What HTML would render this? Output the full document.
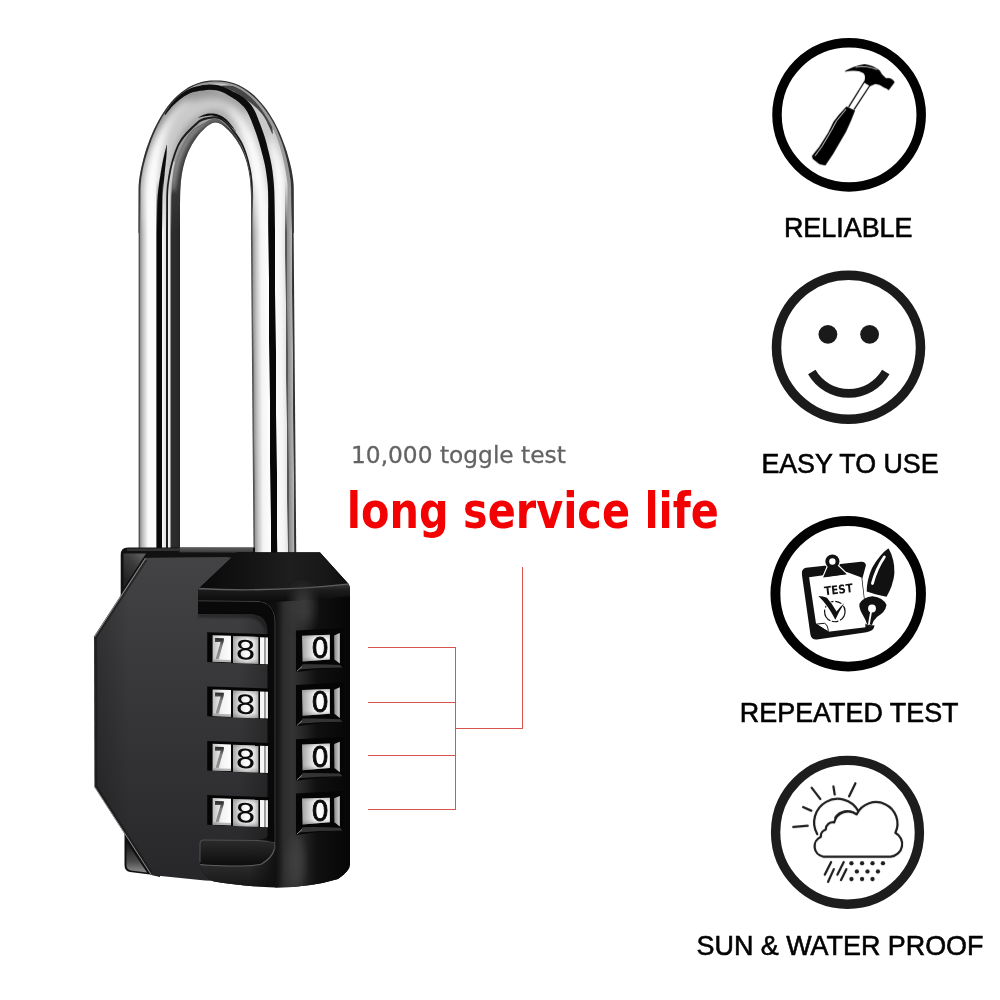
<!DOCTYPE html>
<html><head><meta charset="utf-8"><title>Combination padlock</title>
<style>
html,body{margin:0;padding:0;background:#fff}
svg{display:block}
text{font-family:"Liberation Sans",sans-serif}
.dj{font-family:"DejaVu Sans","Liberation Sans",sans-serif}
.djc{font-family:"DejaVu Sans Condensed","DejaVu Sans","Liberation Sans",sans-serif}
</style></head><body>
<svg width="1000" height="1000" viewBox="0 0 1000 1000">
<rect width="1000" height="1000" fill="#fff"/>
<defs>
<filter id="b05" x="-20%" y="-20%" width="140%" height="140%"><feGaussianBlur stdDeviation="0.5"/></filter>
<filter id="b1" x="-20%" y="-20%" width="140%" height="140%"><feGaussianBlur stdDeviation="1"/></filter>
<filter id="b2" x="-20%" y="-20%" width="140%" height="140%"><feGaussianBlur stdDeviation="2"/></filter>
<filter id="b3" x="-20%" y="-20%" width="140%" height="140%"><feGaussianBlur stdDeviation="3.5"/></filter>
<filter id="b6" x="-30%" y="-30%" width="160%" height="160%"><feGaussianBlur stdDeviation="6"/></filter>

<clipPath id="shk"><path d="M138.6,562.0 L138.6,553.8 L138.6,545.5 L138.6,537.2 L138.6,529.0 L138.6,520.8 L138.6,512.5 L138.6,504.2 L138.6,496.0 L138.6,487.8 L138.6,479.5 L138.6,471.2 L138.6,463.0 L138.6,454.8 L138.6,446.5 L138.6,438.2 L138.6,430.0 L138.6,421.8 L138.6,413.5 L138.6,405.2 L138.6,397.0 L138.6,388.8 L138.6,380.5 L138.6,372.2 L138.6,364.0 L138.6,355.8 L138.6,347.5 L138.6,339.2 L138.6,331.0 L138.6,322.8 L138.6,314.5 L138.6,306.2 L138.6,298.0 L138.6,289.8 L138.6,281.5 L138.6,273.2 L138.6,265.0 L138.6,256.8 L138.6,248.5 L138.6,240.2 L138.6,232.0 L138.6,227.3 L138.6,222.6 L138.6,217.9 L138.6,213.2 L138.6,208.4 L138.6,203.7 L138.6,199.0 L138.6,194.3 L138.6,189.6 L138.7,184.9 L139.1,180.2 L139.8,175.5 L140.6,170.9 L141.6,166.3 L142.7,161.7 L143.9,157.1 L145.2,152.6 L146.6,148.1 L148.2,143.7 L149.8,139.3 L151.6,134.9 L153.5,130.6 L155.5,126.4 L157.7,122.2 L160.0,118.1 L162.5,114.0 L165.1,110.1 L167.8,106.3 L170.8,102.6 L173.9,99.1 L177.3,95.8 L180.8,92.7 L184.6,89.9 L188.5,87.3 L192.7,85.2 L197.1,83.4 L201.6,82.0 L206.2,81.1 L210.9,80.6 L215.6,80.5 L220.3,80.6 L225.0,81.1 L229.7,82.0 L234.2,83.3 L238.6,85.1 L242.8,87.2 L246.8,89.7 L250.7,92.5 L254.3,95.6 L257.7,98.9 L260.8,102.4 L263.8,106.0 L266.7,109.8 L269.3,113.7 L271.8,117.7 L274.2,121.8 L276.4,126.0 L278.5,130.3 L280.4,134.6 L282.2,139.0 L283.9,143.4 L285.5,147.8 L287.0,152.3 L288.3,156.9 L289.6,161.4 L290.7,166.0 L291.7,170.6 L292.5,175.3 L293.2,180.0 L293.6,184.7 L293.7,189.4 L293.7,194.2 L293.7,198.9 L293.7,203.6 L293.7,208.3 L293.7,213.1 L293.7,217.8 L293.7,222.5 L293.7,227.3 L293.7,232.0 L293.7,240.2 L293.7,248.5 L293.7,256.8 L293.7,265.0 L293.7,273.2 L293.7,281.5 L293.7,289.7 L293.7,298.0 L293.7,306.2 L293.7,314.5 L293.7,322.8 L293.7,331.0 L293.7,339.3 L293.7,347.5 L293.7,355.8 L293.7,364.0 L293.7,372.2 L293.7,380.5 L293.7,388.8 L293.7,397.0 L293.7,405.2 L293.7,413.5 L293.7,421.8 L293.7,430.0 L293.7,438.2 L293.7,446.5 L293.7,454.7 L293.7,463.0 L293.7,471.2 L293.7,479.5 L293.7,487.8 L293.7,496.0 L293.7,504.3 L293.7,512.5 L293.7,520.8 L293.7,529.0 L293.7,537.2 L293.7,545.5 L293.7,553.8 L293.7,562.0 L251.1,562.0 L251.1,553.8 L251.1,545.5 L251.1,537.2 L251.1,529.0 L251.1,520.8 L251.1,512.5 L251.1,504.3 L251.1,496.0 L251.1,487.8 L251.1,479.5 L251.1,471.2 L251.1,463.0 L251.1,454.7 L251.1,446.5 L251.1,438.2 L251.1,430.0 L251.1,421.8 L251.1,413.5 L251.1,405.2 L251.1,397.0 L251.1,388.8 L251.1,380.5 L251.1,372.2 L251.1,364.0 L251.1,355.8 L251.1,347.5 L251.1,339.3 L251.1,331.0 L251.1,322.8 L251.1,314.5 L251.1,306.2 L251.1,298.0 L251.1,289.7 L251.1,281.5 L251.1,273.2 L251.1,265.0 L251.1,256.8 L251.1,248.5 L251.1,240.2 L251.1,232.0 L251.1,226.8 L251.1,223.8 L251.1,220.8 L251.1,217.8 L251.1,214.8 L251.1,211.7 L251.1,208.7 L251.1,205.7 L251.1,202.7 L251.0,199.7 L251.0,196.7 L250.9,193.7 L250.8,190.7 L250.6,187.6 L250.4,184.6 L250.2,181.6 L249.8,178.6 L249.4,175.7 L248.9,172.7 L248.4,169.7 L247.7,166.8 L247.0,163.8 L246.2,161.0 L245.2,158.1 L244.2,155.3 L243.1,152.5 L241.8,149.7 L240.5,147.0 L239.0,144.4 L237.4,141.8 L235.8,139.3 L234.0,136.9 L232.2,134.5 L230.2,132.2 L228.1,130.0 L225.9,127.9 L223.6,126.0 L221.2,124.3 L218.4,123.0 L215.5,122.5 L212.5,123.0 L209.8,124.4 L207.4,126.1 L205.1,128.1 L202.9,130.2 L200.8,132.3 L198.9,134.6 L197.0,137.0 L195.3,139.4 L193.6,142.0 L192.0,144.5 L190.6,147.2 L189.2,149.9 L188.0,152.6 L186.9,155.4 L185.8,158.3 L184.9,161.1 L184.1,164.0 L183.3,166.9 L182.7,169.9 L182.1,172.9 L181.7,175.8 L181.3,178.8 L180.9,181.8 L180.7,184.8 L180.5,187.8 L180.3,190.8 L180.2,193.8 L180.1,196.9 L180.1,199.9 L180.0,202.9 L180.0,205.9 L180.0,208.9 L180.0,211.9 L180.0,214.9 L180.0,218.0 L180.0,221.0 L180.0,224.0 L180.0,227.0 L180.0,232.0 L180.0,240.2 L180.0,248.5 L180.0,256.8 L180.0,265.0 L180.0,273.2 L180.0,281.5 L180.0,289.8 L180.0,298.0 L180.0,306.2 L180.0,314.5 L180.0,322.8 L180.0,331.0 L180.0,339.2 L180.0,347.5 L180.0,355.8 L180.0,364.0 L180.0,372.2 L180.0,380.5 L180.0,388.8 L180.0,397.0 L180.0,405.2 L180.0,413.5 L180.0,421.8 L180.0,430.0 L180.0,438.2 L180.0,446.5 L180.0,454.8 L180.0,463.0 L180.0,471.2 L180.0,479.5 L180.0,487.8 L180.0,496.0 L180.0,504.2 L180.0,512.5 L180.0,520.8 L180.0,529.0 L180.0,537.2 L180.0,545.5 L180.0,553.8 L180.0,562.0Z"/></clipPath>
</defs>
<defs>
<linearGradient id="legL" gradientUnits="userSpaceOnUse" x1="138.65" y1="0" x2="180" y2="0">
<stop offset="0.0000" stop-color="#3c3c3c"/><stop offset="0.0290" stop-color="#5a5a5a"/><stop offset="0.0363" stop-color="#909090"/><stop offset="0.0967" stop-color="#bcbcbc"/><stop offset="0.2273" stop-color="#fafafa"/><stop offset="0.4256" stop-color="#fdfdfd"/><stop offset="0.4353" stop-color="#080808"/><stop offset="0.5635" stop-color="#080808"/><stop offset="0.5756" stop-color="#f6f6f6"/><stop offset="0.6554" stop-color="#e2e2e2"/><stop offset="0.6651" stop-color="#1c1c1c"/><stop offset="0.6989" stop-color="#1c1c1c"/><stop offset="0.7086" stop-color="#f2f2f2"/><stop offset="0.7642" stop-color="#eaeaea"/><stop offset="0.7763" stop-color="#2e2e2e"/><stop offset="0.9819" stop-color="#282828"/><stop offset="1.0000" stop-color="#1e1e1e"/>
</linearGradient>
<linearGradient id="legR" gradientUnits="userSpaceOnUse" x1="251.2" y1="0" x2="293.9" y2="0">
<stop offset="0.0000" stop-color="#444"/><stop offset="0.0351" stop-color="#6c6c6c"/><stop offset="0.0445" stop-color="#9a9a9a"/><stop offset="0.1171" stop-color="#c4c4c4"/><stop offset="0.2295" stop-color="#f4f4f4"/><stop offset="0.4028" stop-color="#fdfdfd"/><stop offset="0.4145" stop-color="#080808"/><stop offset="0.5527" stop-color="#080808"/><stop offset="0.5644" stop-color="#fbfbfb"/><stop offset="0.7026" stop-color="#f6f6f6"/><stop offset="0.7963" stop-color="#e6e6e6"/><stop offset="0.8056" stop-color="#585858"/><stop offset="0.8337" stop-color="#585858"/><stop offset="0.8431" stop-color="#8a8a8a"/><stop offset="0.9508" stop-color="#b4b4b4"/><stop offset="0.9625" stop-color="#3a3a3a"/><stop offset="1.0000" stop-color="#2c2c2c"/>
</linearGradient>
<linearGradient id="legfadeg" gradientUnits="userSpaceOnUse" x1="0" y1="180" x2="0" y2="232">
<stop offset="0" stop-color="#000"/><stop offset="1" stop-color="#fff"/></linearGradient>
<mask id="legfade" maskUnits="userSpaceOnUse" x="130" y="170" width="170" height="64"><rect x="130" y="170" width="170" height="64" fill="url(#legfadeg)"/></mask>
<clipPath id="archclip"><rect x="100" y="60" width="240" height="172.3"/></clipPath>
</defs>
<rect x="138.65" y="231.5" width="41.35" height="331" fill="url(#legL)"/>
<rect x="251.2" y="231.5" width="42.7" height="331" fill="url(#legR)" transform="translate(-2.19 0) skewX(0.47)"/>
<g clip-path="url(#archclip)"><g clip-path="url(#shk)">
<path d="M138.6,562.0 L138.6,553.8 L138.6,545.5 L138.6,537.2 L138.6,529.0 L138.6,520.8 L138.6,512.5 L138.6,504.2 L138.6,496.0 L138.6,487.8 L138.6,479.5 L138.6,471.2 L138.6,463.0 L138.6,454.8 L138.6,446.5 L138.6,438.2 L138.6,430.0 L138.6,421.8 L138.6,413.5 L138.6,405.2 L138.6,397.0 L138.6,388.8 L138.6,380.5 L138.6,372.2 L138.6,364.0 L138.6,355.8 L138.6,347.5 L138.6,339.2 L138.6,331.0 L138.6,322.8 L138.6,314.5 L138.6,306.2 L138.6,298.0 L138.6,289.8 L138.6,281.5 L138.6,273.2 L138.6,265.0 L138.6,256.8 L138.6,248.5 L138.6,240.2 L138.6,232.0 L138.6,227.3 L138.6,222.6 L138.6,217.9 L138.6,213.2 L138.6,208.4 L138.6,203.7 L138.6,199.0 L138.6,194.3 L138.6,189.6 L138.7,184.9 L139.1,180.2 L139.8,175.5 L140.6,170.9 L141.6,166.3 L142.7,161.7 L143.9,157.1 L145.2,152.6 L146.6,148.1 L148.2,143.7 L149.8,139.3 L151.6,134.9 L153.5,130.6 L155.5,126.4 L157.7,122.2 L160.0,118.1 L162.5,114.0 L165.1,110.1 L167.8,106.3 L170.8,102.6 L173.9,99.1 L177.3,95.8 L180.8,92.7 L184.6,89.9 L188.5,87.3 L192.7,85.2 L197.1,83.4 L201.6,82.0 L206.2,81.1 L210.9,80.6 L215.6,80.5 L220.3,80.6 L225.0,81.1 L229.7,82.0 L234.2,83.3 L238.6,85.1 L242.8,87.2 L246.8,89.7 L250.7,92.5 L254.3,95.6 L257.7,98.9 L260.8,102.4 L263.8,106.0 L266.7,109.8 L269.3,113.7 L271.8,117.7 L274.2,121.8 L276.4,126.0 L278.5,130.3 L280.4,134.6 L282.2,139.0 L283.9,143.4 L285.5,147.8 L287.0,152.3 L288.3,156.9 L289.6,161.4 L290.7,166.0 L291.7,170.6 L292.5,175.3 L293.2,180.0 L293.6,184.7 L293.7,189.4 L293.7,194.2 L293.7,198.9 L293.7,203.6 L293.7,208.3 L293.7,213.1 L293.7,217.8 L293.7,222.5 L293.7,227.3 L293.7,232.0 L293.7,240.2 L293.7,248.5 L293.7,256.8 L293.7,265.0 L293.7,273.2 L293.7,281.5 L293.7,289.7 L293.7,298.0 L293.7,306.2 L293.7,314.5 L293.7,322.8 L293.7,331.0 L293.7,339.3 L293.7,347.5 L293.7,355.8 L293.7,364.0 L293.7,372.2 L293.7,380.5 L293.7,388.8 L293.7,397.0 L293.7,405.2 L293.7,413.5 L293.7,421.8 L293.7,430.0 L293.7,438.2 L293.7,446.5 L293.7,454.7 L293.7,463.0 L293.7,471.2 L293.7,479.5 L293.7,487.8 L293.7,496.0 L293.7,504.3 L293.7,512.5 L293.7,520.8 L293.7,529.0 L293.7,537.2 L293.7,545.5 L293.7,553.8 L293.7,562.0 L251.1,562.0 L251.1,553.8 L251.1,545.5 L251.1,537.2 L251.1,529.0 L251.1,520.8 L251.1,512.5 L251.1,504.3 L251.1,496.0 L251.1,487.8 L251.1,479.5 L251.1,471.2 L251.1,463.0 L251.1,454.7 L251.1,446.5 L251.1,438.2 L251.1,430.0 L251.1,421.8 L251.1,413.5 L251.1,405.2 L251.1,397.0 L251.1,388.8 L251.1,380.5 L251.1,372.2 L251.1,364.0 L251.1,355.8 L251.1,347.5 L251.1,339.3 L251.1,331.0 L251.1,322.8 L251.1,314.5 L251.1,306.2 L251.1,298.0 L251.1,289.7 L251.1,281.5 L251.1,273.2 L251.1,265.0 L251.1,256.8 L251.1,248.5 L251.1,240.2 L251.1,232.0 L251.1,226.8 L251.1,223.8 L251.1,220.8 L251.1,217.8 L251.1,214.8 L251.1,211.7 L251.1,208.7 L251.1,205.7 L251.1,202.7 L251.0,199.7 L251.0,196.7 L250.9,193.7 L250.8,190.7 L250.6,187.6 L250.4,184.6 L250.2,181.6 L249.8,178.6 L249.4,175.7 L248.9,172.7 L248.4,169.7 L247.7,166.8 L247.0,163.8 L246.2,161.0 L245.2,158.1 L244.2,155.3 L243.1,152.5 L241.8,149.7 L240.5,147.0 L239.0,144.4 L237.4,141.8 L235.8,139.3 L234.0,136.9 L232.2,134.5 L230.2,132.2 L228.1,130.0 L225.9,127.9 L223.6,126.0 L221.2,124.3 L218.4,123.0 L215.5,122.5 L212.5,123.0 L209.8,124.4 L207.4,126.1 L205.1,128.1 L202.9,130.2 L200.8,132.3 L198.9,134.6 L197.0,137.0 L195.3,139.4 L193.6,142.0 L192.0,144.5 L190.6,147.2 L189.2,149.9 L188.0,152.6 L186.9,155.4 L185.8,158.3 L184.9,161.1 L184.1,164.0 L183.3,166.9 L182.7,169.9 L182.1,172.9 L181.7,175.8 L181.3,178.8 L180.9,181.8 L180.7,184.8 L180.5,187.8 L180.3,190.8 L180.2,193.8 L180.1,196.9 L180.1,199.9 L180.0,202.9 L180.0,205.9 L180.0,208.9 L180.0,211.9 L180.0,214.9 L180.0,218.0 L180.0,221.0 L180.0,224.0 L180.0,227.0 L180.0,232.0 L180.0,240.2 L180.0,248.5 L180.0,256.8 L180.0,265.0 L180.0,273.2 L180.0,281.5 L180.0,289.8 L180.0,298.0 L180.0,306.2 L180.0,314.5 L180.0,322.8 L180.0,331.0 L180.0,339.2 L180.0,347.5 L180.0,355.8 L180.0,364.0 L180.0,372.2 L180.0,380.5 L180.0,388.8 L180.0,397.0 L180.0,405.2 L180.0,413.5 L180.0,421.8 L180.0,430.0 L180.0,438.2 L180.0,446.5 L180.0,454.8 L180.0,463.0 L180.0,471.2 L180.0,479.5 L180.0,487.8 L180.0,496.0 L180.0,504.2 L180.0,512.5 L180.0,520.8 L180.0,529.0 L180.0,537.2 L180.0,545.5 L180.0,553.8 L180.0,562.0Z" fill="#cacaca"/>
<g filter="url(#b3)">
<path d="M158.0,240.0 L158.0,237.9 L158.0,235.7 L158.1,233.5 L158.1,231.4 L158.1,229.2 L158.2,227.1 L158.2,224.9 L158.2,222.7 L158.2,220.6 L158.3,218.4 L158.3,216.3 L158.3,214.1 L158.3,212.0 L158.4,209.8 L158.4,207.7 L158.4,205.5 L158.5,203.4 L158.5,201.2 L158.5,199.1 L158.5,196.9 L158.6,194.8 L158.6,192.6 L158.7,190.5 L158.7,188.4 L158.8,186.2 L158.8,184.1 L158.9,182.0 L159.0,179.9 L159.1,177.8 L159.2,175.7 L159.3,173.6 L159.5,171.5 L159.6,169.4 L159.8,167.3 L160.0,165.2 L160.2,163.2 L160.5,161.1 L160.7,159.0 L161.0,157.0 L161.3,154.9 L161.6,152.9 L162.0,150.8 L162.4,148.7 L162.8,146.7 L163.2,144.7 L163.7,142.6 L164.2,140.6 L164.7,138.5 L165.3,136.5 L165.9,134.5 L166.5,132.5 L167.1,130.5 L167.8,128.5 L168.5,126.6 L169.3,124.7 L170.1,122.8 L171.0,121.0 L171.9,119.2 L172.8,117.4 L173.8,115.7 L174.9,114.0 L176.0,112.3 L177.2,110.6 L178.5,109.0 L179.8,107.3 L181.2,105.7 L182.7,104.1 L184.1,102.4 L185.6,100.8 L184.4,99.2 L182.5,100.3 L180.6,101.5 L178.7,102.7 L176.8,103.9 L174.9,105.2 L173.1,106.5 L171.3,108.0 L169.6,109.5 L167.9,111.1 L166.4,112.9 L164.9,114.7 L163.5,116.5 L162.2,118.5 L161.0,120.5 L159.8,122.5 L158.7,124.5 L157.7,126.6 L156.7,128.7 L155.8,130.8 L154.9,132.9 L154.1,135.1 L153.3,137.2 L152.5,139.3 L151.8,141.5 L151.1,143.6 L150.4,145.8 L149.8,147.9 L149.2,150.1 L148.6,152.3 L148.1,154.5 L147.6,156.7 L147.1,158.9 L146.6,161.1 L146.2,163.3 L145.8,165.5 L145.4,167.7 L145.1,169.9 L144.8,172.1 L144.5,174.3 L144.2,176.5 L144.0,178.7 L143.8,181.0 L143.6,183.2 L143.4,185.4 L143.2,187.6 L143.0,189.8 L142.9,192.0 L142.8,194.2 L142.7,196.4 L142.6,198.6 L142.5,200.8 L142.4,203.0 L142.3,205.2 L142.2,207.3 L142.2,209.5 L142.1,211.7 L142.1,213.9 L142.1,216.1 L142.1,218.2 L142.0,220.4 L142.0,222.6 L142.0,224.8 L142.0,226.9 L142.0,229.1 L142.0,231.3 L142.0,233.5 L142.0,235.6 L142.0,237.8 L142.0,240.0Z" fill="#fdfdfd"/>
<path d="M268.5,239.9 L268.5,237.9 L268.5,236.0 L268.5,234.0 L268.5,232.0 L268.4,230.0 L268.4,228.0 L268.4,226.0 L268.4,224.0 L268.4,222.0 L268.3,220.0 L268.3,218.0 L268.2,216.0 L268.2,214.0 L268.1,212.0 L268.0,210.0 L268.0,208.0 L267.9,206.0 L267.8,203.9 L267.6,201.9 L267.5,199.9 L267.4,197.9 L267.2,195.9 L267.0,193.9 L266.9,191.8 L266.7,189.8 L266.5,187.8 L266.2,185.8 L266.0,183.7 L265.7,181.7 L265.4,179.7 L265.1,177.7 L264.8,175.6 L264.4,173.6 L264.1,171.6 L263.7,169.6 L263.2,167.6 L262.8,165.6 L262.3,163.6 L261.8,161.6 L261.3,159.6 L260.8,157.6 L260.2,155.6 L259.6,153.6 L259.0,151.7 L258.3,149.7 L257.6,147.8 L256.9,145.8 L256.1,143.9 L255.4,142.0 L254.5,140.1 L253.7,138.2 L252.8,136.3 L251.8,134.5 L250.9,132.6 L249.9,130.8 L248.8,129.0 L247.7,127.2 L246.5,125.5 L245.3,123.8 L244.0,122.1 L242.6,120.5 L241.3,118.9 L239.8,117.5 L238.4,116.0 L236.9,114.6 L235.3,113.3 L233.8,111.9 L232.3,110.6 L230.7,109.3 L229.3,110.7 L230.4,112.3 L231.5,114.0 L232.7,115.6 L233.7,117.3 L234.8,118.9 L235.8,120.6 L236.7,122.2 L237.6,123.9 L238.5,125.6 L239.3,127.3 L240.0,129.1 L240.7,130.8 L241.4,132.6 L242.0,134.4 L242.6,136.2 L243.2,138.0 L243.8,139.9 L244.3,141.7 L244.8,143.6 L245.3,145.5 L245.8,147.3 L246.3,149.2 L246.7,151.0 L247.1,152.9 L247.5,154.8 L247.9,156.7 L248.3,158.5 L248.7,160.4 L249.0,162.3 L249.3,164.2 L249.6,166.1 L249.9,168.0 L250.1,169.9 L250.4,171.8 L250.6,173.7 L250.8,175.6 L251.0,177.5 L251.2,179.4 L251.4,181.3 L251.5,183.3 L251.7,185.2 L251.8,187.1 L251.9,189.1 L252.0,191.0 L252.2,192.9 L252.3,194.9 L252.4,196.8 L252.4,198.8 L252.5,200.7 L252.6,202.7 L252.7,204.6 L252.7,206.6 L252.8,208.5 L252.9,210.5 L252.9,212.5 L253.0,214.4 L253.0,216.4 L253.1,218.4 L253.1,220.3 L253.2,222.3 L253.2,224.3 L253.3,226.2 L253.3,228.2 L253.3,230.2 L253.4,232.2 L253.4,234.1 L253.4,236.1 L253.5,238.1 L253.5,240.1Z" fill="#fdfdfd"/>
<path d="M287.0,240.0 L287.0,238.5 L287.0,237.0 L287.0,235.5 L287.0,234.0 L287.0,232.5 L286.9,231.0 L286.9,229.5 L286.9,228.0 L286.9,226.5 L286.9,225.0 L286.9,223.5 L286.9,222.0 L286.9,220.5 L286.8,219.0 L286.8,217.5 L286.8,216.0 L286.8,214.5 L286.8,213.0 L286.7,211.5 L286.7,210.0 L286.7,208.5 L286.7,207.0 L286.6,205.5 L286.6,204.0 L286.6,202.5 L286.5,201.0 L286.5,199.5 L286.4,198.0 L286.4,196.5 L286.4,195.0 L286.3,193.4 L286.2,191.9 L286.2,190.4 L286.1,188.9 L286.0,187.3 L285.9,185.8 L285.8,184.3 L285.6,182.7 L285.5,181.2 L285.3,179.7 L285.1,178.1 L284.9,176.6 L284.7,175.1 L284.5,173.5 L284.2,172.0 L283.9,170.5 L283.6,168.9 L283.3,167.4 L282.9,165.9 L282.5,164.4 L282.1,162.9 L281.6,161.4 L281.2,159.9 L280.6,158.4 L280.1,157.0 L279.6,155.5 L279.0,154.1 L278.4,152.7 L277.8,151.3 L277.2,149.9 L276.5,148.5 L275.9,147.2 L275.2,145.8 L274.5,144.4 L273.8,143.1 L273.1,141.7 L272.4,140.4 L271.7,139.1 L271.0,137.7 L269.0,138.3 L269.2,139.8 L269.3,141.3 L269.5,142.8 L269.6,144.4 L269.8,145.9 L269.9,147.4 L270.1,148.9 L270.3,150.4 L270.5,151.9 L270.7,153.4 L271.0,154.8 L271.2,156.3 L271.4,157.8 L271.6,159.2 L271.9,160.7 L272.1,162.1 L272.3,163.5 L272.5,164.9 L272.6,166.4 L272.8,167.8 L273.0,169.2 L273.1,170.6 L273.3,172.0 L273.4,173.5 L273.5,174.9 L273.6,176.3 L273.7,177.8 L273.8,179.2 L273.9,180.6 L274.0,182.1 L274.0,183.5 L274.1,185.0 L274.2,186.5 L274.2,187.9 L274.3,189.4 L274.3,190.9 L274.3,192.3 L274.4,193.8 L274.4,195.3 L274.4,196.8 L274.5,198.3 L274.5,199.8 L274.5,201.3 L274.5,202.8 L274.6,204.2 L274.6,205.7 L274.6,207.2 L274.6,208.7 L274.7,210.2 L274.7,211.7 L274.7,213.2 L274.7,214.7 L274.7,216.2 L274.8,217.7 L274.8,219.2 L274.8,220.7 L274.8,222.1 L274.8,223.6 L274.8,225.1 L274.9,226.6 L274.9,228.1 L274.9,229.6 L274.9,231.1 L274.9,232.6 L274.9,234.1 L275.0,235.6 L275.0,237.1 L275.0,238.6 L275.0,240.0Z" fill="#fdfdfd"/>
<path d="M142.0,240.0 L142.0,237.2 L142.0,234.5 L142.0,231.7 L142.0,229.0 L142.0,226.2 L142.0,223.5 L142.0,220.7 L142.0,218.0 L142.1,215.2 L142.1,212.5 L142.2,209.7 L142.2,207.0 L142.3,204.2 L142.4,201.5 L142.6,198.8 L142.7,196.0 L142.9,193.3 L143.1,190.5 L143.3,187.8 L143.5,185.1 L143.8,182.4 L144.1,179.7 L144.5,177.0 L144.8,174.3 L145.3,171.6 L145.8,169.0 L146.3,166.3 L146.9,163.7 L147.5,161.1 L148.2,158.5 L148.9,155.9 L149.7,153.3 L150.6,150.8 L151.5,148.3 L152.4,145.8 L153.4,143.4 L154.5,141.0 L155.6,138.6 L156.8,136.2 L158.0,133.9 L159.3,131.6 L160.7,129.3 L162.1,127.1 L163.5,124.8 L164.9,122.6 L166.4,120.4 L167.9,118.2 L169.5,116.1 L171.1,114.0 L172.7,111.9 L174.4,110.0 L176.1,108.0 L177.9,106.2 L179.8,104.4 L181.8,102.7 L183.8,101.1 L185.9,99.6 L188.0,98.2 L190.2,96.9 L192.5,95.7 L194.8,94.7 L197.2,93.8 L199.5,93.1 L202.0,92.5 L204.6,91.9 L207.2,91.5 L209.8,91.1 L212.5,90.8 L215.3,90.5 L214.7,83.5 L211.9,83.7 L209.1,83.9 L206.3,84.1 L203.4,84.5 L200.5,84.9 L197.6,85.5 L194.8,86.2 L191.9,87.1 L189.1,88.2 L186.4,89.4 L183.7,90.8 L181.2,92.3 L178.7,94.0 L176.2,95.7 L173.9,97.5 L171.6,99.4 L169.5,101.4 L167.4,103.5 L165.4,105.6 L163.5,107.8 L161.7,110.1 L159.9,112.4 L158.2,114.7 L156.6,117.1 L155.0,119.5 L153.6,121.9 L152.1,124.4 L150.8,127.0 L149.5,129.6 L148.3,132.2 L147.2,134.8 L146.1,137.5 L145.2,140.2 L144.3,142.9 L143.4,145.7 L142.7,148.4 L142.0,151.2 L141.4,154.0 L140.8,156.8 L140.3,159.6 L139.8,162.4 L139.4,165.2 L139.1,168.0 L138.8,170.8 L138.5,173.6 L138.3,176.3 L138.1,179.1 L137.9,181.9 L137.8,184.7 L137.7,187.5 L137.6,190.3 L137.6,193.1 L137.5,195.8 L137.5,198.6 L137.5,201.4 L137.5,204.2 L137.5,206.9 L137.5,209.7 L137.5,212.4 L137.6,215.2 L137.6,218.0 L137.6,220.7 L137.7,223.5 L137.7,226.2 L137.8,229.0 L137.8,231.8 L137.9,234.5 L137.9,237.3 L138.0,240.0Z" fill="#8a8a8a"/>
<path d="M191.2,101.8 L192.1,101.6 L193.0,101.3 L193.9,101.1 L194.8,100.8 L195.7,100.6 L196.6,100.4 L197.4,100.1 L198.3,99.9 L199.2,99.7 L200.1,99.5 L200.9,99.3 L201.8,99.1 L202.6,99.0 L203.5,98.8 L204.3,98.7 L205.2,98.5 L206.0,98.4 L206.9,98.3 L207.7,98.2 L208.6,98.1 L209.4,98.1 L210.2,98.0 L211.1,98.0 L211.9,97.9 L212.8,97.9 L213.6,97.9 L214.5,98.0 L215.3,98.0 L216.1,98.1 L217.0,98.1 L217.8,98.2 L218.6,98.3 L219.4,98.5 L220.3,98.6 L221.1,98.8 L221.9,99.0 L222.7,99.2 L223.5,99.4 L224.3,99.6 L225.1,99.9 L225.9,100.1 L226.7,100.4 L227.5,100.7 L228.3,101.0 L229.0,101.4 L229.8,101.7 L230.6,102.1 L231.3,102.5 L232.0,102.9 L232.8,103.3 L233.5,103.7 L234.2,104.2 L234.9,104.7 L235.6,105.2 L236.3,105.7 L237.0,106.2 L237.7,106.7 L238.3,107.3 L239.0,107.8 L239.7,108.4 L240.4,109.0 L241.1,109.6 L241.7,110.2 L242.4,110.8 L243.1,111.5 L243.8,112.1 L244.4,112.7 L245.1,113.4 L245.8,114.0 L250.2,110.0 L249.6,109.2 L249.0,108.5 L248.4,107.8 L247.8,107.0 L247.2,106.3 L246.5,105.6 L245.9,104.8 L245.2,104.1 L244.6,103.4 L243.9,102.7 L243.2,102.0 L242.5,101.3 L241.8,100.6 L241.1,99.9 L240.4,99.2 L239.6,98.5 L238.8,97.9 L238.0,97.3 L237.2,96.7 L236.3,96.1 L235.5,95.5 L234.6,94.9 L233.7,94.4 L232.8,93.9 L231.9,93.4 L231.0,92.9 L230.0,92.5 L229.1,92.1 L228.1,91.7 L227.1,91.3 L226.1,91.0 L225.1,90.7 L224.1,90.4 L223.1,90.1 L222.1,89.8 L221.1,89.6 L220.0,89.4 L219.0,89.3 L218.0,89.1 L216.9,89.0 L215.9,88.9 L214.9,88.9 L213.8,88.8 L212.8,88.8 L211.8,88.8 L210.7,88.8 L209.7,88.9 L208.7,89.0 L207.7,89.1 L206.7,89.2 L205.6,89.3 L204.6,89.5 L203.6,89.7 L202.7,89.9 L201.7,90.1 L200.7,90.3 L199.7,90.6 L198.8,90.8 L197.8,91.1 L196.9,91.4 L196.0,91.7 L195.1,92.0 L194.1,92.3 L193.2,92.6 L192.3,92.9 L191.4,93.2 L190.5,93.5 L189.7,93.9 L188.8,94.2Z" fill="#9c9c9c"/>
<path d="M179.0,170.5 L179.3,169.0 L179.6,167.6 L179.9,166.1 L180.3,164.6 L180.6,163.2 L181.0,161.8 L181.3,160.3 L181.7,158.9 L182.0,157.5 L182.4,156.1 L182.8,154.7 L183.2,153.3 L183.6,151.9 L184.0,150.5 L184.5,149.1 L184.9,147.8 L185.4,146.4 L185.9,145.1 L186.4,143.8 L187.0,142.5 L187.5,141.2 L188.1,139.9 L188.7,138.7 L189.4,137.4 L190.1,136.3 L190.8,135.1 L191.5,134.0 L192.3,132.8 L193.1,131.8 L193.9,130.7 L194.8,129.6 L195.7,128.6 L196.7,127.6 L197.7,126.6 L198.7,125.6 L199.8,124.7 L200.9,123.8 L202.0,122.8 L203.2,122.0 L204.4,121.1 L205.6,120.3 L206.8,119.6 L208.0,118.9 L209.2,118.4 L210.4,117.9 L211.6,117.5 L212.7,117.2 L213.9,117.0 L215.2,117.0 L216.4,117.0 L217.7,117.2 L219.0,117.4 L220.2,117.8 L221.5,118.2 L222.8,118.8 L224.0,119.4 L225.2,120.1 L226.4,120.9 L227.4,121.7 L228.5,122.6 L229.5,123.6 L230.5,124.6 L231.4,125.6 L232.3,126.7 L233.2,127.9 L234.1,129.1 L235.0,130.3 L235.8,131.5 L236.7,132.8 L239.3,131.2 L238.6,129.9 L237.9,128.5 L237.2,127.1 L236.4,125.8 L235.6,124.4 L234.8,123.1 L233.9,121.8 L232.9,120.5 L231.8,119.3 L230.7,118.1 L229.5,117.0 L228.1,115.9 L226.7,114.9 L225.3,114.0 L223.7,113.2 L222.1,112.5 L220.5,112.0 L218.8,111.5 L217.1,111.2 L215.3,111.0 L213.6,111.0 L211.8,111.2 L210.1,111.5 L208.4,111.9 L206.8,112.4 L205.2,113.1 L203.7,113.8 L202.2,114.6 L200.7,115.4 L199.3,116.3 L197.9,117.2 L196.6,118.1 L195.3,119.1 L194.0,120.1 L192.7,121.1 L191.5,122.2 L190.3,123.3 L189.2,124.4 L188.1,125.6 L187.0,126.8 L186.0,128.1 L185.0,129.3 L184.0,130.7 L183.2,132.0 L182.3,133.4 L181.5,134.8 L180.8,136.3 L180.1,137.7 L179.4,139.2 L178.8,140.7 L178.2,142.2 L177.7,143.7 L177.2,145.2 L176.7,146.8 L176.3,148.3 L175.9,149.8 L175.6,151.4 L175.3,152.9 L175.0,154.4 L174.7,155.9 L174.5,157.5 L174.2,159.0 L174.0,160.5 L173.8,162.0 L173.7,163.5 L173.5,165.0 L173.3,166.5 L173.2,168.0 L173.0,169.5Z" fill="#999"/>
</g>
<g filter="url(#b05)">
<path d="M171.3,265.0 L171.3,255.9 L171.3,246.8 L171.3,237.8 L171.3,229.1 L171.3,225.4 L171.3,221.7 L171.3,218.0 L171.3,214.3 L171.3,210.5 L171.3,206.8 L171.3,203.1 L171.3,199.4 L171.4,195.7 L171.6,192.0 L171.8,188.3 L172.0,184.6 L172.4,180.9 L172.8,177.1 L173.3,173.4 L174.0,169.8 L174.7,166.1 L175.6,162.5 L176.7,159.0 L177.9,155.5 L179.2,152.1 L180.7,148.8 L182.3,145.5 L184.0,142.3 L185.8,139.2 L187.8,136.1 L189.9,133.1 L192.2,130.5 L194.7,128.3 L197.5,126.5 L200.3,124.9 L203.1,123.4 L206.0,121.9 L208.9,120.3 L212.1,119.0 L215.5,118.6 L218.9,119.5 L222.0,121.4 L224.8,123.8 L227.3,126.3 L229.7,128.8 L232.1,131.3 L234.3,134.0 L236.3,136.7 L238.2,139.6 L239.9,142.7 L241.5,145.7 L242.9,148.9 L244.2,152.1 L245.4,155.4 L246.4,158.6 L247.4,161.9 L248.2,165.2 L248.9,168.5 L249.6,171.8 L250.1,175.1 L250.6,178.4 L251.0,181.8 L251.2,185.1 L251.5,188.4 L251.6,191.8 L251.7,195.2 L251.8,198.5 L251.8,201.9 L251.8,205.2 L251.8,208.6 L251.8,211.9 L251.8,215.3 L251.8,218.6 L251.7,222.0 L251.7,225.3 L251.7,228.6 L251.7,237.8 L251.7,246.9 L251.7,255.9 L251.7,265.0 L249.0,265.0 L249.0,255.9 L249.0,246.9 L249.0,237.8 L249.0,228.5 L249.0,225.3 L249.0,222.1 L249.0,218.9 L249.0,215.7 L249.0,212.4 L249.0,209.2 L249.0,206.0 L248.9,202.8 L248.9,199.6 L248.9,196.3 L248.8,193.1 L248.7,189.9 L248.5,186.7 L248.3,183.5 L248.0,180.2 L247.6,177.0 L247.1,173.9 L246.6,170.7 L245.9,167.5 L245.1,164.4 L244.2,161.3 L243.2,158.2 L242.1,155.2 L240.8,152.3 L239.4,149.3 L237.9,146.5 L236.3,143.7 L234.5,141.0 L232.7,138.4 L230.7,135.8 L228.6,133.3 L226.4,131.0 L224.0,128.8 L221.5,126.8 L218.6,125.2 L215.5,124.6 L212.4,125.3 L209.5,126.9 L207.0,128.9 L204.7,131.1 L202.4,133.5 L200.3,136.0 L198.3,138.5 L196.5,141.1 L194.7,143.9 L193.1,146.6 L191.6,149.5 L190.2,152.4 L188.9,155.4 L187.8,158.4 L186.8,161.5 L185.9,164.6 L185.1,167.7 L184.5,170.8 L183.9,174.0 L183.4,177.2 L183.0,180.4 L182.7,183.6 L182.5,186.9 L182.3,190.1 L182.2,193.3 L182.2,196.5 L182.1,199.7 L182.1,203.0 L182.1,206.2 L182.1,209.4 L182.1,212.6 L182.1,215.9 L182.1,219.1 L182.1,222.3 L182.1,225.5 L182.1,228.8 L182.1,237.8 L182.1,246.8 L182.1,255.9 L182.1,265.0Z" fill="#3a3a3a"/>
</g>
<g filter="url(#b2)">
<path d="M170.5,189.5 L170.6,188.1 L170.7,186.7 L170.8,185.3 L170.9,184.0 L171.0,182.6 L171.1,181.2 L171.2,179.8 L171.4,178.4 L171.5,177.0 L171.7,175.6 L171.8,174.3 L172.0,172.9 L172.2,171.5 L172.4,170.1 L172.7,168.7 L172.9,167.3 L173.2,166.0 L173.5,164.6 L173.8,163.3 L174.1,161.9 L174.5,160.6 L174.9,159.3 L175.3,158.0 L175.8,156.7 L176.3,155.5 L176.7,154.2 L177.3,153.0 L177.8,151.8 L178.3,150.6 L178.9,149.4 L179.5,148.2 L180.1,147.0 L180.7,145.9 L181.4,144.7 L182.0,143.6 L182.7,142.5 L183.4,141.3 L184.1,140.2 L184.8,139.1 L185.5,138.0 L186.2,136.9 L187.0,135.8 L187.7,134.7 L188.5,133.6 L189.3,132.5 L190.1,131.5 L190.9,130.5 L191.8,129.6 L192.7,128.7 L193.7,127.9 L194.7,127.2 L195.7,126.5 L196.7,125.9 L197.7,125.3 L198.8,124.7 L199.8,124.1 L200.8,123.6 L201.9,123.1 L202.9,122.5 L204.0,122.0 L205.1,121.5 L206.1,120.9 L207.2,120.4 L208.3,119.8 L209.4,119.2 L210.6,118.7 L211.7,118.3 L213.0,118.0 L214.2,118.0 L215.5,118.1 L216.8,118.4 L218.0,118.9 L219.2,119.5 L220.4,120.2 L221.5,121.0 L222.5,121.9 L223.5,122.7 L224.5,123.6 L225.5,124.4 L226.4,125.3 L226.1,127.0 L225.2,126.2 L224.2,125.4 L223.3,124.7 L222.3,123.9 L221.3,123.2 L220.2,122.5 L219.1,121.9 L217.9,121.5 L216.7,121.2 L215.5,121.0 L214.3,121.0 L213.1,121.2 L211.9,121.6 L210.8,122.1 L209.7,122.6 L208.7,123.3 L207.6,123.9 L206.7,124.6 L205.7,125.3 L204.7,126.0 L203.8,126.7 L202.8,127.4 L201.9,128.2 L201.0,128.9 L200.1,129.6 L199.2,130.4 L198.4,131.2 L197.5,132.0 L196.6,132.9 L195.8,133.7 L195.0,134.6 L194.2,135.6 L193.5,136.5 L192.7,137.5 L192.0,138.5 L191.3,139.6 L190.7,140.6 L190.0,141.7 L189.4,142.8 L188.7,143.8 L188.1,144.9 L187.5,146.0 L186.9,147.1 L186.3,148.2 L185.8,149.3 L185.2,150.4 L184.7,151.5 L184.2,152.6 L183.7,153.8 L183.2,154.9 L182.8,156.1 L182.3,157.2 L181.9,158.4 L181.5,159.6 L181.1,160.7 L180.7,161.9 L180.4,163.2 L180.0,164.4 L179.7,165.6 L179.4,166.8 L179.1,168.1 L178.8,169.3 L178.6,170.5 L178.3,171.7 L178.0,173.0 L177.8,174.2 L177.5,175.4 L177.3,176.6 L177.1,177.9 L176.9,179.1 L176.6,180.3 L176.4,181.6 L176.3,182.8 L176.1,184.1 L175.9,185.3 L175.8,186.6 L175.6,187.8 L175.5,189.1 L175.4,190.4 L175.3,191.6Z" fill="#8c8c8c"/>
</g>
<g filter="url(#b05)">
<path d="M168.2,265.0 L168.2,262.5 L168.2,260.1 L168.2,257.6 L168.2,255.1 L168.2,252.6 L168.2,250.1 L168.2,247.7 L168.2,245.2 L168.2,242.7 L168.2,240.2 L168.2,237.8 L168.2,235.3 L168.2,232.8 L168.2,229.9 L168.2,228.8 L168.2,227.8 L168.2,226.7 L168.2,225.7 L168.2,224.6 L168.2,223.6 L168.2,222.5 L168.2,221.5 L168.2,220.4 L168.2,219.4 L168.2,218.3 L168.2,217.3 L168.2,216.2 L168.2,215.2 L168.2,214.1 L168.2,213.1 L168.2,212.0 L168.2,211.0 L168.2,209.9 L168.2,208.9 L168.2,207.8 L168.2,206.8 L168.2,205.7 L168.2,204.7 L168.2,203.7 L168.2,202.6 L168.2,201.6 L168.2,200.5 L168.2,199.5 L168.2,198.4 L168.2,197.4 L168.3,196.3 L168.3,195.3 L168.3,194.2 L168.4,193.2 L168.4,192.1 L168.5,191.1 L168.6,190.0 L168.6,189.0 L168.7,187.9 L168.8,186.9 L168.9,185.8 L169.0,184.8 L169.1,183.8 L169.2,182.7 L169.3,181.7 L169.5,180.6 L169.6,179.6 L169.7,178.5 L169.9,177.5 L170.0,176.5 L170.2,175.4 L170.3,174.4 L170.5,173.3 L170.7,172.3 L170.9,171.3 L171.0,170.2 L171.2,169.2 L171.5,168.2 L171.7,167.1 L171.9,166.1 L172.1,165.1 L172.4,164.1 L172.6,163.0 L172.9,162.0 L173.2,161.0 L174.8,162.5 L174.6,163.5 L174.3,164.5 L174.1,165.5 L173.9,166.6 L173.7,167.6 L173.5,168.6 L173.3,169.6 L173.1,170.6 L173.0,171.7 L172.8,172.7 L172.7,173.7 L172.6,174.8 L172.4,175.8 L172.3,176.8 L172.2,177.9 L172.1,178.9 L172.0,179.9 L171.9,181.0 L171.9,182.0 L171.8,183.0 L171.7,184.0 L171.6,185.1 L171.6,186.1 L171.5,187.1 L171.4,188.1 L171.3,189.1 L171.3,190.2 L171.2,191.2 L171.2,192.2 L171.1,193.2 L171.1,194.2 L171.0,195.2 L171.0,196.3 L171.0,197.3 L171.0,198.3 L171.0,199.3 L171.0,200.3 L171.0,201.3 L171.0,202.4 L171.0,203.4 L171.0,204.4 L171.0,205.4 L171.1,206.4 L171.1,207.5 L171.1,208.5 L171.1,209.5 L171.1,210.5 L171.1,211.5 L171.1,212.5 L171.2,213.6 L171.2,214.6 L171.2,215.6 L171.2,216.6 L171.2,217.6 L171.2,218.6 L171.2,219.6 L171.3,220.7 L171.3,221.7 L171.3,222.7 L171.3,223.7 L171.3,224.7 L171.3,225.7 L171.3,226.7 L171.3,227.7 L171.3,228.8 L171.3,229.8 L171.3,232.8 L171.3,235.3 L171.3,237.8 L171.3,240.2 L171.3,242.7 L171.3,245.2 L171.3,247.7 L171.3,250.1 L171.3,252.6 L171.3,255.1 L171.3,257.6 L171.3,260.1 L171.3,262.5 L171.3,265.0Z" fill="#d0d0d0"/>
<path d="M166.6,265.0 L166.6,255.9 L166.6,246.8 L166.6,237.8 L166.6,229.2 L166.6,225.3 L166.5,221.4 L166.5,217.5 L166.5,213.5 L166.5,209.6 L166.4,205.7 L166.4,201.7 L166.4,197.8 L166.5,193.9 L166.7,189.9 L167.0,186.0 L167.5,182.1 L168.0,178.3 L168.6,174.4 L169.3,170.6 L170.2,166.8 L171.1,163.0 L172.2,159.2 L173.3,155.5 L174.6,151.8 L176.0,148.2 L177.6,144.6 L179.4,141.3 L181.4,138.1 L183.6,135.2 L185.9,132.5 L188.4,129.9 L190.9,127.4 L193.6,124.9 L196.3,122.5 L199.1,120.1 L202.1,118.5 L205.3,117.5 L208.6,116.9 L212.0,116.4 L215.5,116.2 L219.0,116.8 L222.3,118.5 L225.2,120.7 L227.9,123.3 L230.5,126.1 L232.8,128.9 L235.1,131.7 L237.2,134.4 L239.2,137.4 L241.1,140.4 L242.7,143.6 L244.2,146.9 L245.5,150.3 L246.7,153.7 L247.7,157.1 L248.7,160.5 L249.5,163.9 L250.3,167.3 L251.0,170.6 L251.6,174.0 L252.0,177.4 L252.4,180.8 L252.7,184.3 L252.9,187.7 L253.0,191.2 L253.1,194.6 L253.1,198.0 L253.0,201.5 L253.0,204.9 L252.9,208.3 L252.8,211.7 L252.7,215.1 L252.7,218.5 L252.6,221.9 L252.6,225.3 L252.6,228.7 L252.6,237.8 L252.6,246.9 L252.6,255.9 L252.6,265.0 L251.1,265.0 L251.1,255.9 L251.1,246.9 L251.1,237.8 L251.1,228.6 L251.1,225.3 L251.1,222.0 L251.2,218.7 L251.2,215.3 L251.3,212.0 L251.3,208.7 L251.4,205.3 L251.4,202.0 L251.5,198.6 L251.5,195.3 L251.4,191.9 L251.3,188.5 L251.1,185.2 L250.9,181.8 L250.6,178.4 L250.1,175.1 L249.6,171.8 L248.9,168.5 L248.2,165.2 L247.4,161.9 L246.5,158.6 L245.5,155.3 L244.3,152.0 L243.0,148.8 L241.6,145.6 L240.0,142.5 L238.2,139.5 L236.3,136.6 L234.3,133.9 L232.1,131.1 L229.9,128.3 L227.5,125.6 L224.9,123.0 L222.1,120.7 L218.9,118.9 L215.5,118.3 L212.1,118.5 L208.8,119.0 L205.7,119.7 L202.6,120.7 L199.6,122.3 L196.9,124.7 L194.3,127.1 L191.8,129.5 L189.3,132.0 L186.9,134.5 L184.7,137.1 L182.5,140.0 L180.5,143.0 L178.8,146.3 L177.3,149.8 L176.0,153.3 L174.7,156.9 L173.6,160.6 L172.6,164.2 L171.7,167.9 L170.9,171.7 L170.2,175.4 L169.5,179.2 L169.0,183.0 L168.6,186.8 L168.3,190.6 L168.1,194.5 L168.0,198.3 L168.0,202.2 L168.0,206.0 L168.0,209.9 L168.0,213.8 L168.0,217.6 L168.0,221.5 L168.0,225.3 L168.0,229.2 L168.0,237.8 L168.0,246.8 L168.0,255.9 L168.0,265.0Z" fill="#1a1a1a"/>
<path d="M198.6,117.7 L199.2,117.6 L199.8,117.4 L200.4,117.2 L201.1,117.1 L201.7,116.9 L202.3,116.8 L203.0,116.6 L203.6,116.5 L204.2,116.4 L204.8,116.2 L205.4,116.1 L206.1,116.0 L206.7,115.9 L207.3,115.9 L207.9,115.8 L208.5,115.7 L209.1,115.7 L209.8,115.6 L210.4,115.6 L211.0,115.6 L211.6,115.6 L212.2,115.6 L212.8,115.7 L213.5,115.8 L214.1,115.8 L214.7,115.9 L215.3,116.1 L215.9,116.2 L216.5,116.3 L217.1,116.5 L217.7,116.7 L218.3,116.9 L218.9,117.1 L219.4,117.4 L220.0,117.6 L220.6,117.9 L221.1,118.2 L221.7,118.5 L222.2,118.8 L222.7,119.1 L223.3,119.4 L223.8,119.8 L224.3,120.1 L224.8,120.5 L225.3,120.9 L225.8,121.3 L226.3,121.7 L226.7,122.1 L227.2,122.6 L227.7,123.0 L228.2,123.4 L228.6,123.9 L229.1,124.3 L229.5,124.8 L230.0,125.3 L230.4,125.7 L230.8,126.2 L231.3,126.7 L231.7,127.2 L232.1,127.7 L232.6,128.1 L233.0,128.6 L233.4,129.1 L233.8,129.6 L234.2,130.1 L234.6,130.6 L235.1,131.1 L235.5,131.6 L235.9,132.1 L236.1,131.9 L235.8,131.4 L235.4,130.8 L235.1,130.3 L234.7,129.7 L234.3,129.2 L234.0,128.7 L233.6,128.1 L233.3,127.6 L232.9,127.1 L232.5,126.5 L232.1,126.0 L231.7,125.5 L231.3,124.9 L230.9,124.4 L230.5,123.9 L230.1,123.4 L229.7,122.9 L229.2,122.4 L228.8,121.9 L228.3,121.4 L227.9,120.9 L227.4,120.5 L226.9,120.0 L226.4,119.6 L225.9,119.1 L225.4,118.7 L224.9,118.3 L224.3,117.9 L223.8,117.5 L223.2,117.1 L222.7,116.7 L222.1,116.4 L221.5,116.1 L220.9,115.8 L220.3,115.5 L219.7,115.2 L219.0,114.9 L218.4,114.7 L217.7,114.5 L217.1,114.3 L216.4,114.1 L215.8,113.9 L215.1,113.8 L214.4,113.7 L213.7,113.6 L213.0,113.5 L212.4,113.4 L211.7,113.4 L211.0,113.4 L210.3,113.4 L209.6,113.5 L209.0,113.5 L208.3,113.6 L207.6,113.7 L206.9,113.8 L206.3,114.0 L205.6,114.2 L205.0,114.4 L204.4,114.6 L203.7,114.8 L203.1,115.1 L202.5,115.3 L201.9,115.6 L201.3,115.9 L200.7,116.2 L200.2,116.5 L199.6,116.8 L199.0,117.1 L198.4,117.5Z" fill="#111"/>
<path d="M162.8,240.0 L162.8,238.6 L162.8,237.2 L162.8,235.9 L162.8,234.5 L162.8,233.1 L162.9,231.7 L162.9,230.3 L162.9,228.9 L162.9,227.6 L162.9,226.2 L162.9,224.8 L162.9,223.4 L162.9,222.0 L162.9,220.6 L162.8,219.2 L162.8,217.9 L162.8,216.5 L162.8,215.1 L162.8,213.7 L162.8,212.3 L162.7,210.9 L162.7,209.6 L162.7,208.2 L162.7,206.8 L162.7,205.4 L162.7,204.1 L162.6,202.7 L162.7,201.3 L162.7,200.0 L162.7,198.6 L162.7,197.2 L162.8,195.9 L162.8,194.5 L162.9,193.2 L163.0,191.8 L163.1,190.4 L163.2,189.1 L163.3,187.7 L163.4,186.4 L163.5,185.0 L163.7,183.6 L163.8,182.2 L163.9,180.9 L164.1,179.5 L164.2,178.1 L164.3,176.7 L164.5,175.4 L164.6,174.0 L164.7,172.6 L164.9,171.3 L165.0,169.9 L165.1,168.5 L165.3,167.1 L165.4,165.8 L165.6,164.4 L165.7,163.0 L165.9,161.7 L166.0,160.3 L166.2,158.9 L166.3,157.5 L166.4,156.1 L166.5,154.8 L166.6,153.4 L166.7,152.0 L166.8,150.6 L166.8,149.2 L166.8,147.8 L166.9,146.4 L166.9,145.0 L166.7,145.0 L166.3,146.3 L166.0,147.7 L165.6,149.0 L165.3,150.4 L164.9,151.7 L164.6,153.1 L164.3,154.4 L164.0,155.8 L163.7,157.1 L163.4,158.5 L163.1,159.8 L162.8,161.2 L162.5,162.5 L162.3,163.9 L162.0,165.3 L161.8,166.6 L161.5,168.0 L161.3,169.4 L161.0,170.7 L160.8,172.1 L160.6,173.5 L160.4,174.8 L160.2,176.2 L159.9,177.6 L159.7,179.0 L159.5,180.3 L159.3,181.7 L159.1,183.1 L158.9,184.5 L158.8,185.8 L158.6,187.2 L158.4,188.6 L158.3,190.0 L158.1,191.4 L158.0,192.8 L157.9,194.2 L157.7,195.6 L157.7,197.0 L157.6,198.4 L157.5,199.8 L157.4,201.2 L157.4,202.6 L157.3,204.0 L157.3,205.4 L157.3,206.8 L157.3,208.2 L157.2,209.6 L157.2,211.0 L157.2,212.4 L157.2,213.7 L157.2,215.1 L157.2,216.5 L157.2,217.9 L157.2,219.3 L157.2,220.6 L157.2,222.0 L157.2,223.4 L157.2,224.8 L157.2,226.2 L157.2,227.6 L157.2,228.9 L157.2,230.3 L157.2,231.7 L157.2,233.1 L157.2,234.5 L157.2,235.8 L157.2,237.2 L157.2,238.6 L157.2,240.0Z" fill="#0a0a0a"/>
<path d="M221.0,86.2 L222.0,86.6 L223.1,87.0 L224.2,87.3 L225.2,87.7 L226.2,88.1 L227.2,88.5 L228.2,88.9 L229.2,89.3 L230.2,89.7 L231.1,90.2 L232.0,90.7 L233.0,91.1 L233.9,91.6 L234.8,92.2 L235.7,92.7 L236.6,93.2 L237.5,93.8 L238.4,94.3 L239.3,94.9 L240.2,95.5 L241.1,96.1 L242.0,96.7 L242.8,97.3 L243.7,97.9 L244.6,98.5 L245.4,99.1 L246.3,99.7 L247.2,100.4 L248.0,101.0 L248.9,101.7 L249.7,102.3 L250.6,103.0 L251.4,103.6 L252.2,104.3 L253.0,104.9 L253.7,105.6 L254.5,106.2 L255.2,106.9 L256.0,107.5 L256.7,108.2 L257.4,108.8 L258.0,109.5 L258.7,110.2 L259.4,110.9 L260.1,111.7 L260.7,112.4 L261.4,113.2 L262.0,114.0 L262.6,114.8 L263.2,115.7 L263.8,116.5 L264.4,117.4 L264.9,118.3 L265.4,119.2 L265.9,120.1 L266.4,121.1 L266.9,122.0 L267.3,123.0 L267.8,124.0 L268.3,124.9 L268.7,125.9 L269.2,126.9 L269.6,127.9 L270.1,128.9 L270.5,130.0 L270.9,131.0 L271.4,132.0 L271.8,133.0 L272.3,134.1 L272.7,133.9 L272.7,132.8 L272.7,131.7 L272.6,130.6 L272.5,129.5 L272.5,128.3 L272.4,127.2 L272.3,126.1 L272.1,125.0 L272.0,123.9 L271.8,122.7 L271.6,121.6 L271.4,120.5 L271.1,119.4 L270.8,118.2 L270.5,117.1 L270.1,116.0 L269.8,114.9 L269.4,113.8 L269.0,112.7 L268.5,111.6 L268.0,110.5 L267.5,109.4 L267.0,108.3 L266.4,107.2 L265.7,106.2 L265.1,105.2 L264.4,104.2 L263.6,103.2 L262.8,102.2 L262.0,101.4 L261.1,100.5 L260.2,99.7 L259.3,98.9 L258.3,98.2 L257.4,97.5 L256.4,96.8 L255.4,96.2 L254.5,95.5 L253.5,94.9 L252.5,94.3 L251.5,93.8 L250.6,93.2 L249.6,92.6 L248.6,92.1 L247.6,91.5 L246.6,91.0 L245.6,90.5 L244.5,90.0 L243.5,89.5 L242.4,89.0 L241.4,88.6 L240.3,88.1 L239.2,87.7 L238.1,87.3 L237.0,87.0 L235.9,86.6 L234.8,86.3 L233.6,86.1 L232.5,85.8 L231.3,85.7 L230.2,85.5 L229.0,85.4 L227.8,85.4 L226.7,85.4 L225.5,85.4 L224.4,85.5 L223.3,85.6 L222.2,85.7 L221.0,85.8Z" fill="#474747"/>
<path d="M275.0,240.0 L275.0,236.6 L275.0,233.1 L275.0,229.7 L274.9,226.3 L274.9,222.9 L274.9,219.4 L274.9,216.0 L274.8,212.6 L274.8,209.2 L274.7,205.7 L274.6,202.3 L274.5,198.8 L274.4,195.4 L274.3,191.9 L274.1,188.5 L273.9,185.0 L273.6,181.6 L273.3,178.1 L272.9,174.6 L272.5,171.2 L272.0,167.7 L271.4,164.3 L270.7,160.8 L270.0,157.4 L269.2,154.1 L268.4,150.7 L267.5,147.4 L266.7,144.0 L265.8,140.7 L264.8,137.3 L263.7,134.0 L262.6,130.7 L261.4,127.4 L260.2,124.2 L258.9,121.0 L257.7,117.8 L256.4,114.5 L254.9,111.2 L253.1,107.9 L251.0,104.8 L248.5,101.9 L245.8,99.3 L242.9,97.0 L239.8,95.0 L236.7,93.3 L233.6,91.7 L230.5,90.1 L227.3,88.5 L224.0,87.0 L220.5,85.8 L216.9,85.0 L213.2,84.7 L209.5,84.6 L206.0,84.8 L202.4,85.1 L198.9,85.8 L195.4,86.7 L192.0,87.8 L188.7,89.3 L185.5,91.1 L182.6,93.1 L179.8,95.3 L177.1,97.6 L174.7,100.1 L172.4,102.8 L170.2,105.5 L168.2,108.4 L166.3,111.3 L164.5,114.2 L165.5,114.8 L167.5,112.1 L169.6,109.4 L171.8,106.8 L174.1,104.4 L176.6,102.2 L179.2,100.0 L181.9,98.0 L184.7,96.1 L187.5,94.5 L190.4,93.1 L193.4,92.1 L196.6,91.4 L199.9,90.8 L203.1,90.4 L206.4,90.0 L209.6,89.8 L212.9,89.9 L216.1,90.2 L219.1,90.9 L222.0,91.9 L224.9,93.3 L227.8,95.0 L230.8,96.7 L233.6,98.5 L236.3,100.3 L238.9,102.3 L241.3,104.4 L243.5,106.6 L245.4,109.0 L247.1,111.5 L248.5,114.3 L249.9,117.2 L251.2,120.3 L252.4,123.5 L253.7,126.7 L254.9,129.9 L256.0,133.0 L257.1,136.2 L258.1,139.4 L259.1,142.6 L260.0,145.8 L260.9,149.1 L261.8,152.4 L262.7,155.7 L263.5,158.9 L264.3,162.2 L265.0,165.5 L265.6,168.8 L266.1,172.1 L266.6,175.4 L267.0,178.7 L267.4,182.1 L267.7,185.5 L267.9,188.9 L268.1,192.2 L268.2,195.6 L268.3,199.0 L268.4,202.4 L268.5,205.8 L268.5,209.2 L268.5,212.7 L268.6,216.1 L268.6,219.5 L268.6,222.9 L268.6,226.3 L268.6,229.7 L268.6,233.2 L268.6,236.6 L268.6,240.0Z" fill="#0a0a0a"/>
<path d="M197.2,84.1 L199.9,83.2 L202.6,82.5 L205.3,81.9 L208.1,81.5 L210.9,81.3 L213.7,81.2 L216.5,81.1 L219.4,81.2 L222.2,81.4 L225.0,81.8 L227.8,82.3 L230.5,82.9 L233.2,83.7 L235.9,84.7 L238.5,85.8 L241.0,87.0 L243.4,88.4 L245.8,89.9 L248.1,91.5 L250.4,93.3 L252.5,95.1 L254.6,97.0 L256.6,99.0 L258.5,101.1 L260.4,103.3 L262.2,105.4 L263.9,107.7 L265.5,110.0 L267.1,112.3 L268.7,114.7 L270.2,117.1 L271.6,119.5 L273.0,121.9 L274.3,124.4 L275.6,126.9 L276.8,129.5 L278.0,132.1 L279.1,134.7 L280.1,137.3 L281.1,140.0 L282.0,142.7 L282.9,145.4 L283.7,148.1 L284.5,150.8 L285.2,153.6 L285.9,156.3 L286.6,159.0 L287.2,161.8 L287.8,164.5 L288.4,167.3 L288.9,170.0 L289.4,172.7 L289.9,175.5 L290.3,178.2 L290.6,181.0 L290.9,183.8 L291.1,186.5 L291.1,189.3 L291.1,192.1 L291.0,194.9 L291.0,197.7 L291.0,200.4 L290.9,203.2 L290.9,206.0 L290.9,208.8 L290.8,211.5 L290.8,214.3 L290.8,217.1 L290.8,219.9 L290.7,222.6 L290.7,225.4 L290.7,228.2 L290.7,230.9 L290.7,235.3 L290.7,240.3 L290.7,245.2 L290.7,250.2 L290.7,255.1 L290.7,260.1 L290.7,265.0 L287.1,265.0 L287.1,260.1 L287.1,255.1 L287.1,250.2 L287.1,245.2 L287.1,240.3 L287.1,235.3 L287.1,230.8 L287.1,228.1 L287.1,225.4 L287.1,222.7 L287.2,220.1 L287.2,217.4 L287.2,214.7 L287.3,212.0 L287.3,209.3 L287.4,206.6 L287.4,203.9 L287.5,201.2 L287.5,198.5 L287.6,195.8 L287.6,193.1 L287.6,190.4 L287.6,187.7 L287.5,185.0 L287.3,182.3 L286.9,179.7 L286.5,177.0 L286.1,174.3 L285.7,171.7 L285.2,169.0 L284.7,166.3 L284.2,163.6 L283.6,161.0 L283.0,158.3 L282.3,155.6 L281.7,152.9 L280.9,150.3 L280.2,147.6 L279.4,145.0 L278.5,142.3 L277.6,139.7 L276.6,137.1 L275.6,134.6 L274.5,132.0 L273.3,129.5 L272.1,127.1 L270.9,124.7 L269.5,122.3 L268.2,119.9 L266.8,117.5 L265.3,115.2 L263.8,112.8 L262.2,110.6 L260.6,108.3 L258.9,106.1 L257.1,103.9 L255.3,101.8 L253.4,99.8 L251.4,97.8 L249.4,96.0 L247.2,94.2 L245.0,92.5 L242.7,91.0 L240.3,89.5 L237.9,88.2 L235.4,87.1 L232.8,86.1 L230.1,85.3 L227.5,84.7 L224.8,84.1 L222.0,83.8 L219.3,83.5 L216.5,83.4 L213.8,83.5 L211.0,83.6 L208.3,83.9 L205.6,84.3 L202.9,84.9 L200.2,85.6 L197.6,86.5Z" fill="#9a9a9a"/>
<path d="M134.5,265.0 L134.5,255.9 L134.5,246.8 L134.5,237.8 L134.5,230.2 L134.5,224.9 L134.5,219.5 L134.5,214.1 L134.5,208.8 L134.5,203.4 L134.5,198.0 L134.5,192.7 L134.5,187.3 L134.7,181.9 L135.3,176.6 L136.2,171.3 L137.2,166.0 L138.5,160.8 L139.9,155.6 L141.4,150.5 L143.1,145.4 L144.9,140.3 L146.9,135.3 L149.0,130.4 L151.3,125.5 L153.7,120.7 L156.3,116.0 L159.1,111.4 L162.1,106.9 L165.3,102.6 L168.7,98.5 L172.3,94.5 L176.2,90.8 L180.3,87.4 L184.8,84.3 L189.5,81.7 L194.4,79.6 L199.6,78.0 L204.9,76.9 L210.2,76.4 L215.6,76.3 L221.0,76.4 L226.4,76.9 L231.7,77.9 L236.9,79.5 L241.9,81.6 L246.7,84.2 L251.1,87.2 L255.4,90.6 L259.3,94.2 L263.0,98.2 L266.5,102.3 L269.7,106.6 L272.8,111.1 L275.6,115.7 L278.3,120.4 L280.7,125.2 L283.1,130.0 L285.2,135.0 L287.3,140.0 L289.1,145.0 L290.9,150.2 L292.4,155.3 L293.9,160.5 L295.1,165.8 L296.2,171.1 L297.1,176.4 L297.8,181.7 L298.0,187.1 L298.0,192.5 L298.0,197.9 L298.0,203.3 L298.0,208.7 L298.0,214.1 L298.0,219.5 L298.0,224.9 L298.0,230.3 L298.0,237.8 L298.0,246.9 L298.0,255.9 L298.0,265.0 L290.7,265.0 L290.7,255.9 L290.7,246.9 L290.7,237.8 L290.7,230.0 L290.7,224.9 L290.8,219.9 L290.8,214.8 L290.9,209.7 L290.9,204.6 L291.0,199.5 L291.0,194.4 L291.1,189.3 L290.9,184.2 L290.4,179.2 L289.6,174.1 L288.7,169.1 L287.7,164.1 L286.6,159.1 L285.3,154.1 L283.9,149.1 L282.3,144.1 L280.6,139.2 L278.7,134.4 L276.7,129.6 L274.4,125.0 L271.9,120.5 L269.3,116.1 L266.5,111.8 L263.4,107.6 L260.2,103.6 L256.7,99.8 L253.0,96.2 L249.1,92.9 L244.9,89.9 L240.4,87.3 L235.8,85.1 L230.9,83.5 L225.9,82.3 L220.7,81.7 L215.6,81.5 L210.5,81.7 L205.4,82.4 L200.4,83.6 L195.6,85.3 L190.9,87.5 L186.5,90.2 L182.4,93.3 L178.5,96.6 L174.9,100.3 L171.5,104.1 L168.3,108.1 L165.4,112.3 L162.6,116.6 L160.1,121.1 L157.7,125.6 L155.5,130.2 L153.4,134.9 L151.5,139.7 L149.8,144.5 L148.2,149.4 L146.7,154.2 L145.3,159.2 L144.0,164.1 L142.9,169.1 L142.0,174.1 L141.2,179.1 L140.7,184.2 L140.5,189.3 L140.5,194.4 L140.5,199.5 L140.5,204.6 L140.5,209.7 L140.5,214.8 L140.5,219.9 L140.5,225.0 L140.5,230.1 L140.5,237.8 L140.5,246.8 L140.5,255.9 L140.5,265.0Z" fill="#333"/>
</g>
</g></g>
<g clip-path="url(#shk)" mask="url(#legfade)">
<rect x="138" y="170" width="43.5" height="63" fill="url(#legL)"/>
<rect x="250.5" y="170" width="44.5" height="63" fill="url(#legR)" transform="translate(-2.19 0) skewX(0.47)"/>
</g>
<defs>
<linearGradient id="plate" x1="0" y1="0" x2="0" y2="1">
<stop offset="0" stop-color="#434345"/><stop offset=".3" stop-color="#3a3a3c"/><stop offset=".7" stop-color="#303032"/><stop offset="1" stop-color="#272729"/>
</linearGradient>
<linearGradient id="plateL" gradientUnits="userSpaceOnUse" x1="93" y1="0" x2="275" y2="0">
<stop offset="0" stop-color="#000" stop-opacity=".22"/><stop offset=".2" stop-color="#000" stop-opacity="0"/><stop offset=".8" stop-color="#000" stop-opacity="0"/><stop offset="1" stop-color="#000" stop-opacity=".3"/>
</linearGradient>
<linearGradient id="back" x1="0" y1="0" x2="0" y2="1">
<stop offset="0" stop-color="#2a2a2a"/><stop offset=".03" stop-color="#111"/><stop offset="1" stop-color="#0c0c0c"/>
</linearGradient>
<linearGradient id="col" gradientUnits="userSpaceOnUse" x1="275" y1="0" x2="350" y2="0">
<stop offset="0" stop-color="#0e0e0e"/><stop offset=".04" stop-color="#161616"/><stop offset=".12" stop-color="#2e2e2e"/><stop offset=".24" stop-color="#333333"/><stop offset=".38" stop-color="#252525"/><stop offset=".55" stop-color="#101010"/><stop offset="1" stop-color="#060606"/>
</linearGradient>
<linearGradient id="topstrip" x1="0" y1="0" x2="0" y2="1">
<stop offset="0" stop-color="#5c5c5c"/><stop offset=".7" stop-color="#444"/><stop offset="1" stop-color="#222"/>
</linearGradient>
<linearGradient id="tri1" gradientUnits="userSpaceOnUse" x1="122" y1="575" x2="142" y2="556">
<stop offset="0" stop-color="#242424"/><stop offset=".6" stop-color="#3c3c3c"/><stop offset="1" stop-color="#5a5a5a"/>
</linearGradient>
<linearGradient id="tri2" gradientUnits="userSpaceOnUse" x1="0" y1="845" x2="0" y2="872">
<stop offset="0" stop-color="#1c1c1c"/><stop offset=".6" stop-color="#4a4a4a"/><stop offset="1" stop-color="#8a8a8a"/>
</linearGradient>
<linearGradient id="bev" gradientUnits="userSpaceOnUse" x1="200" y1="0" x2="350" y2="0">
<stop offset="0" stop-color="#0a0a0a"/><stop offset=".3" stop-color="#131313"/><stop offset=".6" stop-color="#1e1e1e"/><stop offset=".85" stop-color="#171717"/><stop offset="1" stop-color="#0c0c0c"/>
</linearGradient>
<linearGradient id="g7" x1="0" y1="0" x2="0" y2="1">
<stop offset="0" stop-color="#111"/><stop offset=".22" stop-color="#333"/><stop offset=".4" stop-color="#808080"/><stop offset="1" stop-color="#9a9a9a"/>
</linearGradient>
<linearGradient id="cell8" x1="0" y1="0" x2="1" y2="0">
<stop offset="0" stop-color="#a8a8a8"/><stop offset=".3" stop-color="#e6e6e6"/><stop offset=".55" stop-color="#ffffff"/><stop offset=".85" stop-color="#e0e0e0"/><stop offset="1" stop-color="#b4b4b4"/>
</linearGradient>
<linearGradient id="cell0" x1="0" y1="0" x2="1" y2="0">
<stop offset="0" stop-color="#a4a4a4"/><stop offset=".3" stop-color="#d8d8d8"/><stop offset=".5" stop-color="#ffffff"/><stop offset="1" stop-color="#f4f4f4"/>
</linearGradient>
<linearGradient id="cellv" x1="0" y1="0" x2="0" y2="1">
<stop offset="0" stop-color="#666" stop-opacity=".35"/><stop offset=".18" stop-color="#888" stop-opacity="0"/><stop offset=".8" stop-color="#888" stop-opacity="0"/><stop offset="1" stop-color="#555" stop-opacity=".45"/>
</linearGradient>
<linearGradient id="sliv0" x1="0" y1="0" x2="1" y2="0">
<stop offset="0" stop-color="#8a8a8a"/><stop offset="1" stop-color="#d4d4d4"/>
</linearGradient>
<linearGradient id="cell" x1="0" y1="0" x2="0" y2="1">
<stop offset="0" stop-color="#b4b4b4"/><stop offset=".2" stop-color="#e8e8e8"/><stop offset=".5" stop-color="#ffffff"/><stop offset=".75" stop-color="#d0d0d0"/><stop offset="1" stop-color="#8c8c8c"/>
</linearGradient>
<linearGradient id="cell7" x1="0" y1="0" x2="1" y2="0">
<stop offset="0" stop-color="#c0c0c0"/><stop offset=".5" stop-color="#f4f4f4"/><stop offset="1" stop-color="#ffffff"/>
</linearGradient>
<linearGradient id="sliv" x1="0" y1="0" x2="1" y2="0">
<stop offset="0" stop-color="#f4f4f4"/><stop offset=".5" stop-color="#fafafa"/><stop offset=".55" stop-color="#9a9a9a"/><stop offset=".72" stop-color="#a8a8a8"/><stop offset=".78" stop-color="#f0f0f0"/><stop offset="1" stop-color="#e4e4e4"/>
</linearGradient>
<linearGradient id="lipT" x1="0" y1="0" x2="0" y2="1">
<stop offset="0" stop-color="#3a3a3a"/><stop offset=".35" stop-color="#1c1c1c"/><stop offset="1" stop-color="#0a0a0a"/>
</linearGradient>
<linearGradient id="lipB" x1="0" y1="0" x2="0" y2="1">
<stop offset="0" stop-color="#2c2c2c"/><stop offset="1" stop-color="#0c0c0c"/>
</linearGradient>
<linearGradient id="botF" x1="0" y1="0" x2="0" y2="1">
<stop offset="0" stop-color="#3c3c3c"/><stop offset="1" stop-color="#101010"/>
</linearGradient>
<linearGradient id="mfadeg" gradientUnits="userSpaceOnUse" x1="250" y1="0" x2="278" y2="0">
<stop offset="0" stop-color="#fff"/><stop offset="1" stop-color="#000"/>
</linearGradient>
<mask id="mfade" maskUnits="userSpaceOnUse" x="190" y="840" width="120" height="60"><rect x="190" y="840" width="120" height="60" fill="url(#mfadeg)"/></mask>
<clipPath id="hous"><path id="housP" d="M237,552.5 L320,552.5 L348.5,584 Q350,586 350,590 L350,864 Q350,871 338,879 Q310,887.5 276,887.5 Q240,886 214,881.5 Q203,878 200,864 L200,843 Q200,840 203,840 L258,840 Q275,838 275,820 L275,621 Q274,603 258,601.5 L198,601 L198,591 Q198,589 200,587.5 Z"/></clipPath>
</defs>
<path d="M128,547.6 L255,547.6 L255,560 L150,560 L150,600 L120.7,600 L120.7,555 Q120.7,547.6 128,547.6Z" fill="#111"/>
<path d="M127,548.6 L179,548.3 L179,551 L127,551Z" fill="#333" filter="url(#b05)"/>
<path d="M179.5,547.4 L253,547.8 L253,553 L179.5,552.6Z" fill="url(#topstrip)"/>
<path d="M123.5,553.5 L146,553.5 L123.5,588Z" fill="url(#tri1)" filter="url(#b05)"/>
<path d="M124.5,825 L160,825 L160,877 L150,874.5 L130,872 Q124.5,871 124.5,865Z" fill="#101010"/>
<path d="M126.5,842 L147,872.5 L131,870.5 Q126.5,869.5 126.5,865Z" fill="url(#tri2)" filter="url(#b05)"/>
<path d="M145,558 L285,557 L285,884 L205,880.5 L151,875 L94.5,787 L94,636.5 Z" fill="url(#plate)"/>
<path d="M145,558 L285,557 L285,884 L205,880.5 L151,875 L94.5,787 L94,636.5 Z" fill="url(#plateL)"/>
<path d="M146.5,560 L96,637.2 L96.4,786.6 L152,873" stroke="#161618" stroke-width="2" fill="none" opacity=".55" filter="url(#b05)"/>
<path d="M145.5,558.3 L94.6,636.8" stroke="#8a8a8a" stroke-width="1" fill="none"/>
<path d="M94.8,787 L151.2,874.6" stroke="#8a8a8a" stroke-width="1" fill="none"/>
<path d="M146,558.4 L228,557.6" stroke="#444" stroke-width="1" fill="none"/>
<g clip-path="url(#hous)">
<rect x="190" y="545" width="170" height="350" fill="#0e0e0e"/>
<rect x="275" y="589" width="75" height="300" fill="url(#col)"/>
<path d="M190,545 H360 V584 Q270,595 190,588Z" fill="#0b0b0b"/>
<path d="M190,545 H360 V584 Q270,595 190,588Z" fill="url(#bev)"/>
<path d="M196,588.2 Q270,592.5 351,583.5 L351,596 Q270,606 196,600Z" fill="url(#lipT)"/>
<path d="M196,588.4 Q270,592.7 351,583.7" stroke="#5e5e5e" stroke-width="1.3" fill="none"/>
<ellipse cx="303" cy="607" rx="10" ry="20" fill="#3a3a3a" filter="url(#b6)"/>
<path d="M196,839.5 L258,840.5 L274.5,842 L274.5,849 Q272,858 261.5,864 Q248,867.5 205,865 L196,864Z" fill="url(#lipB)"/>
<path d="M196,864 L205,865 Q248,867.5 261.5,864 Q272,858 274.5,849 L274.5,846 L292,846 L292,895 L196,895Z" fill="url(#botF)" mask="url(#mfade)"/>
<path d="M200,864.6 L205,865 Q248,867.5 261.5,864 Q272,858 274.5,849" stroke="#606060" stroke-width="1.1" fill="none"/>
<ellipse cx="296" cy="862" rx="8" ry="26" fill="#3c3c3c" filter="url(#b3)"/>
</g>
<path d="M198.5,601 L258,601.5 Q274,603 274.8,621 L274.8,849" stroke="#555" stroke-width="1" fill="none"/>
<path d="M274,842 L258,840.5 L203,840 Q200,840 200,843 L200,862" stroke="#505050" stroke-width="1" fill="none"/>
<path d="M198,601.3 L258,601.8 Q274,603 274.6,621 L274.6,842 L267.5,841.3 L267.5,632 Q267.5,615 252,614.3 L198,614 Z" fill="#090909"/>
<path d="M198,614 L252,614.3 Q267.5,615 267.5,632 L267.5,640 Q264,619 250,618 L198,617.5Z" fill="#000" opacity=".35" filter="url(#b1)"/>
<g opacity=".995">
<g transform="translate(207.2 635.3) skewY(1.8)">
<path d="M0,-3.1 L61.6,-3.0 L61.6,27.6 L0,26.6Z" fill="#050505"/>
<rect x="5.4" y="-0.3" width="18.4" height="26.6" fill="url(#cell7)"/>
<rect x="5.4" y="24" width="18.4" height="2.3" fill="#8a8a8a" opacity=".6"/>
<rect x="25.8" y="0" width="25.4" height="27" fill="url(#cell8)"/>
<rect x="25.8" y="0" width="25.4" height="27" fill="url(#cellv)"/>
<rect x="52.8" y=".2" width="8" height="26.9" fill="url(#sliv)"/>
<text x="0" y="0" font-size="29" font-weight="bold" fill="url(#g7)" text-anchor="middle" transform="translate(11.6 23.6) scale(.55 1) skewX(-4)" class="dj">7</text>
<text x="0" y="0" font-size="26.5" fill="#0a0a0a" text-anchor="middle" transform="translate(38.3 22.9) scale(1.22 1)" class="dj">8</text>
</g>
<path d="M296,630.6 L343.4,628.2 L343.4,667.2 Q320,668.5 296,672.0 Z" fill="#050505"/>
<path d="M302.8,664.3 Q321,663.9 340,664.9 L342.6,667.5 Q320,667.5 298.5,669.5 Z" fill="#363636" filter="url(#b05)"/>
<path d="M296.8,671.3 L302,666.6" stroke="#8a8a8a" stroke-width="1" fill="none"/>
<path d="M302,635.7 L329.9,634.8 L329.9,659.4 L302.6,661.5 Z" fill="url(#cell0)"/>
<path d="M302,635.7 L329.9,634.8 L329.9,659.4 L302.6,661.5 Z" fill="url(#cellv)"/>
<path d="M334.1,635.4 L339.8,633.0 L339.8,663.6 L334.4,659.4 Z" fill="url(#sliv0)"/>
<text x="0" y="0" font-size="27.8" fill="#0a0a0a" stroke="#0a0a0a" stroke-width=".8" text-anchor="middle" transform="translate(320 657.9)" class="dj">0</text>
<g transform="translate(207.2 689.6) skewY(1.8)">
<path d="M0,-3.1 L61.6,-3.0 L61.6,27.6 L0,26.6Z" fill="#050505"/>
<rect x="5.4" y="-0.3" width="18.4" height="26.6" fill="url(#cell7)"/>
<rect x="5.4" y="24" width="18.4" height="2.3" fill="#8a8a8a" opacity=".6"/>
<rect x="25.8" y="0" width="25.4" height="27" fill="url(#cell8)"/>
<rect x="25.8" y="0" width="25.4" height="27" fill="url(#cellv)"/>
<rect x="52.8" y=".2" width="8" height="26.9" fill="url(#sliv)"/>
<text x="0" y="0" font-size="29" font-weight="bold" fill="url(#g7)" text-anchor="middle" transform="translate(11.6 23.6) scale(.55 1) skewX(-4)" class="dj">7</text>
<text x="0" y="0" font-size="26.5" fill="#0a0a0a" text-anchor="middle" transform="translate(38.3 22.9) scale(1.22 1)" class="dj">8</text>
</g>
<path d="M296,684.9 L343.4,682.5 L343.4,721.5 Q320,722.8 296,726.3 Z" fill="#050505"/>
<path d="M302.8,718.6 Q321,718.2 340,719.2 L342.6,721.8 Q320,721.8 298.5,723.8 Z" fill="#363636" filter="url(#b05)"/>
<path d="M296.8,725.6 L302,720.9" stroke="#8a8a8a" stroke-width="1" fill="none"/>
<path d="M302,690.0 L329.9,689.1 L329.9,713.7 L302.6,715.8 Z" fill="url(#cell0)"/>
<path d="M302,690.0 L329.9,689.1 L329.9,713.7 L302.6,715.8 Z" fill="url(#cellv)"/>
<path d="M334.1,689.7 L339.8,687.3 L339.8,717.9 L334.4,713.7 Z" fill="url(#sliv0)"/>
<text x="0" y="0" font-size="27.8" fill="#0a0a0a" stroke="#0a0a0a" stroke-width=".8" text-anchor="middle" transform="translate(320 712.2)" class="dj">0</text>
<g transform="translate(207.2 744.0) skewY(1.8)">
<path d="M0,-3.1 L61.6,-3.0 L61.6,27.6 L0,26.6Z" fill="#050505"/>
<rect x="5.4" y="-0.3" width="18.4" height="26.6" fill="url(#cell7)"/>
<rect x="5.4" y="24" width="18.4" height="2.3" fill="#8a8a8a" opacity=".6"/>
<rect x="25.8" y="0" width="25.4" height="27" fill="url(#cell8)"/>
<rect x="25.8" y="0" width="25.4" height="27" fill="url(#cellv)"/>
<rect x="52.8" y=".2" width="8" height="26.9" fill="url(#sliv)"/>
<text x="0" y="0" font-size="29" font-weight="bold" fill="url(#g7)" text-anchor="middle" transform="translate(11.6 23.6) scale(.55 1) skewX(-4)" class="dj">7</text>
<text x="0" y="0" font-size="26.5" fill="#0a0a0a" text-anchor="middle" transform="translate(38.3 22.9) scale(1.22 1)" class="dj">8</text>
</g>
<path d="M296,739.3 L343.4,736.9 L343.4,775.9 Q320,777.2 296,780.7 Z" fill="#050505"/>
<path d="M302.8,773.0 Q321,772.6 340,773.6 L342.6,776.2 Q320,776.2 298.5,778.2 Z" fill="#363636" filter="url(#b05)"/>
<path d="M296.8,780.0 L302,775.3" stroke="#8a8a8a" stroke-width="1" fill="none"/>
<path d="M302,744.4 L329.9,743.5 L329.9,768.1 L302.6,770.2 Z" fill="url(#cell0)"/>
<path d="M302,744.4 L329.9,743.5 L329.9,768.1 L302.6,770.2 Z" fill="url(#cellv)"/>
<path d="M334.1,744.1 L339.8,741.7 L339.8,772.3 L334.4,768.1 Z" fill="url(#sliv0)"/>
<text x="0" y="0" font-size="27.8" fill="#0a0a0a" stroke="#0a0a0a" stroke-width=".8" text-anchor="middle" transform="translate(320 766.6)" class="dj">0</text>
<g transform="translate(207.2 798.2) skewY(1.8)">
<path d="M0,-3.1 L61.6,-3.0 L61.6,27.6 L0,26.6Z" fill="#050505"/>
<rect x="5.4" y="-0.3" width="18.4" height="26.6" fill="url(#cell7)"/>
<rect x="5.4" y="24" width="18.4" height="2.3" fill="#8a8a8a" opacity=".6"/>
<rect x="25.8" y="0" width="25.4" height="27" fill="url(#cell8)"/>
<rect x="25.8" y="0" width="25.4" height="27" fill="url(#cellv)"/>
<rect x="52.8" y=".2" width="8" height="26.9" fill="url(#sliv)"/>
<text x="0" y="0" font-size="29" font-weight="bold" fill="url(#g7)" text-anchor="middle" transform="translate(11.6 23.6) scale(.55 1) skewX(-4)" class="dj">7</text>
<text x="0" y="0" font-size="26.5" fill="#0a0a0a" text-anchor="middle" transform="translate(38.3 22.9) scale(1.22 1)" class="dj">8</text>
</g>
<path d="M296,793.5 L343.4,791.1 L343.4,830.1 Q320,831.4 296,834.9 Z" fill="#050505"/>
<path d="M302.8,827.2 Q321,826.8 340,827.8 L342.6,830.4 Q320,830.4 298.5,832.4 Z" fill="#363636" filter="url(#b05)"/>
<path d="M296.8,834.2 L302,829.5" stroke="#8a8a8a" stroke-width="1" fill="none"/>
<path d="M302,798.6 L329.9,797.7 L329.9,822.3 L302.6,824.4 Z" fill="url(#cell0)"/>
<path d="M302,798.6 L329.9,797.7 L329.9,822.3 L302.6,824.4 Z" fill="url(#cellv)"/>
<path d="M334.1,798.3 L339.8,795.9 L339.8,826.5 L334.4,822.3 Z" fill="url(#sliv0)"/>
<text x="0" y="0" font-size="27.8" fill="#0a0a0a" stroke="#0a0a0a" stroke-width=".8" text-anchor="middle" transform="translate(320 820.8)" class="dj">0</text>
</g>
<g stroke="#d9534f" stroke-width="1" fill="none" shape-rendering="crispEdges">
<path d="M368,647.5 H456"/>
<path d="M368,702.5 H456"/>
<path d="M368,755.5 H456"/>
<path d="M368,809.5 H456"/>
<path d="M455.5,647 V810"/>
<path d="M456,728.5 H522"/>
<path d="M522.5,567 V729"/>
</g>
<g opacity=".995">
<text id="t1" x="351" y="463" font-size="23.3" fill="#626262" stroke="#626262" stroke-width=".3" class="dj">10,000 toggle test</text>
<text id="t2" x="0" y="0" font-size="50" font-weight="bold" fill="#f20000" transform="translate(346.8 527.7) scale(.921 1)" class="djc">long service life</text>
<circle cx="849.1" cy="114.8" r="72.1" fill="none" stroke="#000" stroke-width="9.5"/>
<circle cx="848.5" cy="347.3" r="72.0" fill="none" stroke="#1a1a1a" stroke-width="9.5"/>
<circle cx="848.2" cy="593.8" r="72.8" fill="none" stroke="#000" stroke-width="9.9"/>
<circle cx="847.5" cy="832.3" r="71.9" fill="none" stroke="#1c1c1c" stroke-width="9.4"/>
<text id="l1" x="848.2" y="237.4" font-size="26.9" text-anchor="middle" fill="#000" stroke="#000" stroke-width=".6">RELIABLE</text>
<text id="l2" x="850" y="473.4" font-size="26.8" text-anchor="middle" fill="#000" stroke="#000" stroke-width=".6">EASY TO USE</text>
<text id="l3" x="849.2" y="722.2" font-size="26.9" text-anchor="middle" fill="#000" stroke="#000" stroke-width=".6">REPEATED TEST</text>
<text id="l4" x="840" y="954.5" font-size="26.9" text-anchor="middle" fill="#000" stroke="#000" stroke-width=".6">SUN &amp; WATER PROOF</text>
</g>
<g transform="translate(760 30) scale(.18)">
<path d="M288,700 L328,650 L378,570 L408,510 L438,470 L480,425 L528,447 L506,503 L478,565 L448,617 L407,687 L363,752 L330,746 L293,716Z" fill="#000"/>
<path d="M305,700 L345,645 L395,560 L425,505 L455,468 L478,440" stroke="#fff" stroke-width="5" fill="none"/>
<path d="M492,428 L578,290 M522,442 L610,308" stroke="#000" stroke-width="7" fill="none"/>
<path d="M472,228 Q520,200 580,190 Q630,195 665,225 Q675,250 700,268 Q730,262 748,290 L715,335 Q700,320 690,320 Q665,300 640,300 L612,312 L575,290 Q592,262 575,240 Q540,218 472,232Z" fill="#000"/>
<path d="M530,207 Q590,195 650,220" stroke="#fff" stroke-width="4" fill="none"/>
</g>
<circle cx="827.9" cy="334.3" r="9.4" fill="#1a1a1a"/><circle cx="869.6" cy="334.3" r="9.4" fill="#1a1a1a"/>
<path d="M811.8,372 A42.7,42.7 0 0 0 885.8,372" stroke="#1a1a1a" stroke-width="8.6" fill="none"/>
<g transform="translate(795 540) scale(.11)">
<path d="M100,252 L600,197 Q640,193 645,230 L612,352 L660,770 L722,778 Q715,830 650,838 L200,905 Q150,910 140,860 L62,310 Q58,262 100,252Z" fill="#111"/>
<path d="M128,338 L470,292 L604,340 L655,772 Q680,790 700,786 L300,835 L262,762 L192,765Z" fill="#fff"/>
<path d="M192,765 L268,757 Q300,770 303,835 Z" fill="#fff" stroke="#111" stroke-width="9" stroke-linejoin="round"/>
<path d="M192,765 L303,835 L215,850 Z" fill="#111"/>
<path d="M296,236 L392,230 L478,315 L250,345Z" fill="#111" stroke="#fff" stroke-width="14" stroke-linejoin="round"/>
<circle cx="340" cy="195" r="72" fill="#fff"/>
<circle cx="340" cy="195" r="64" fill="#111"/><circle cx="340" cy="195" r="29" fill="#fff"/>
<path d="M300,240 L388,234 L470,312 L256,340Z" fill="#111"/>
<text x="0" y="0" font-size="108" font-weight="bold" fill="#111" textLength="262" lengthAdjust="spacingAndGlyphs" transform="translate(270 503) rotate(-6.8)" class="djc">TEST</text>
<circle cx="362" cy="650" r="93" fill="none" stroke="#111" stroke-width="11" stroke-dasharray="95 18 60 14 120 20"/>
<path d="M212,508 Q255,508 290,524 Q340,580 378,650 Q402,612 448,574 Q398,650 367,726 Q300,590 212,508Z" fill="#111" stroke="#fff" stroke-width="14" stroke-linejoin="round" paint-order="stroke"/>
<path d="M850,75 Q770,130 700,255 Q650,370 652,468 Q720,492 832,516 Q890,420 905,300 Q905,170 850,75Z" fill="#111"/>
<path d="M704,395 Q740,260 812,155" stroke="#fff" stroke-width="26" fill="none" stroke-linecap="round"/>
<path d="M586,580 Q620,520 705,512 Q800,520 832,592 Q820,660 745,700 Q712,730 700,772 L655,762 Q640,720 610,670 Q580,620 586,580Z" fill="#111"/>
<circle cx="700" cy="622" r="36" fill="#fff"/>
<path d="M692,650 L672,765" stroke="#fff" stroke-width="16" fill="none"/>
<path d="M640,760 Q680,800 722,778 Q716,815 690,822 L640,800Z" fill="#111"/>
</g>
<g transform="translate(760 745) scale(.18)" fill="none" stroke="#1c1c1c" stroke-width="12.5" stroke-linecap="round" stroke-linejoin="round">
<path d="M318,495 A128,128 0 0 1 545,365"/>
<path d="M545,365 Q555,395 530,385 A75,75 0 0 0 418,405"/>
<path d="M185,455 L265,448 M240,345 L285,365 M287,237 L335,300 M408,230 L415,275 M530,213 L495,285"/>
<path d="M350,620 H725 A70,70 0 0 0 752,488 A112,112 0 0 0 537,385 A80,80 0 0 0 412,430 A40,40 0 0 0 365,470 A38,38 0 0 0 338,510 A58,58 0 0 0 350,620Z" fill="#fff"/>
<path d="M395,650 L360,720 M410,690 L378,760 M465,650 L430,720 M480,690 L450,750"/>
<g fill="#1c1c1c" stroke="none">
<circle cx="508" cy="657" r="12"/>
<circle cx="567" cy="657" r="12"/>
<circle cx="625" cy="657" r="12"/>
<circle cx="683" cy="657" r="12"/>
<circle cx="538" cy="703" r="12"/>
<circle cx="597" cy="703" r="12"/>
<circle cx="655" cy="703" r="12"/>
<circle cx="508" cy="745" r="12"/>
<circle cx="567" cy="745" r="12"/>
<circle cx="625" cy="745" r="12"/>
</g></g>
</svg></body></html>
